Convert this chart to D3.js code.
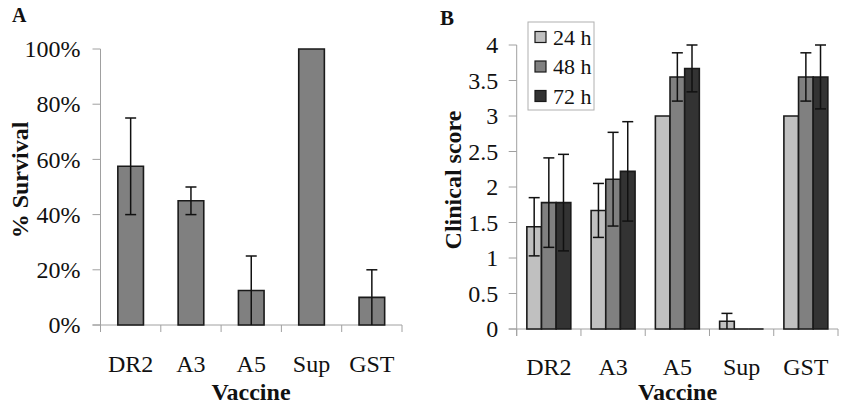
<!DOCTYPE html>
<html><head><meta charset="utf-8">
<script src="https://cdn.jsdelivr.net/npm/d3@7"></script>
<style>
html,body{margin:0;padding:0;background:#fff;}
svg{display:block;}
text{font-family:"Liberation Serif","Times New Roman",serif;fill:#111;}
</style></head>
<body>
<svg id="c" width="846" height="407"></svg>
<script>
// ---- data ----
const categories = ["DR2", "A3", "A5", "Sup", "GST"];
const survival = [0.575, 0.45, 0.125, 1.0, 0.10];
const survivalErr = [0.175, 0.05, 0.125, 0, 0.10];
const survivalTicks = [0, 0.2, 0.4, 0.6, 0.8, 1.0];

const series = ["24 h", "48 h", "72 h"];
const score24 = [1.44, 1.67, 3.0, 0.11, 3.0];
const score48 = [1.78, 2.11, 3.55, 0, 3.55];
const score72 = [1.78, 2.22, 3.67, 0, 3.55];
const err24 = [0.41, 0.38, 0, 0.11, 0];
const err48 = [0.63, 0.66, 0.34, 0, 0.34];
const err72 = [0.68, 0.70, 0.33, 0, 0.45];
const scoreTicks = [0, 0.5, 1, 1.5, 2, 2.5, 3, 3.5, 4];
const seriesColors = ["#c0c0c0", "#808080", "#333333"];

const svg = d3.select("#c");
const axisColor = "#a0a0a0";
const barStroke = "#1a1a1a";

function barPath(x0, x1, y0, y1) {
  return `M${x0},${y0}V${y1}H${x1}V${y0}Z`;
}

function drawAxes(g, x, y, ticks, fmt, labelOff) {
  const [r0, r1] = x.range();
  const [b, t] = y.range();
  g.append("line").attr("x1", r0).attr("x2", r0).attr("y1", t).attr("y2", b + 7)
    .attr("stroke", axisColor).attr("stroke-width", 1);
  g.selectAll(".yt").data(ticks).join("line")
    .attr("x1", r0 - 8).attr("x2", r0).attr("y1", d => y(d)).attr("y2", d => y(d))
    .attr("stroke", axisColor);
  g.selectAll(".yl").data(ticks).join("text")
    .attr("x", r0 - labelOff).attr("y", d => y(d)).attr("dy", "0.34em")
    .attr("text-anchor", "end").attr("font-size", 24).text(fmt);
  g.append("line").attr("x1", r0 - 8).attr("x2", r1).attr("y1", b).attr("y2", b)
    .attr("stroke", axisColor);
  const bounds = d3.range(categories.length + 1).map(i => r0 + i * x.step());
  g.selectAll(".xt").data(bounds).join("line")
    .attr("x1", d => d).attr("x2", d => d).attr("y1", b).attr("y2", b + 7)
    .attr("stroke", axisColor);
}

// ---------------- Panel A ----------------
const gA = svg.append("g");
const xA = d3.scaleBand().domain(categories).range([100.5, 402])
  .paddingInner(0.575).paddingOuter(0.2875);
const yA = d3.scaleLinear().domain([0, 1]).range([325, 49]);
drawAxes(gA, xA, yA, survivalTicks, d3.format(".0%"), 20);

gA.selectAll(".bar").data(categories).join("path")
  .attr("d", (c, i) => barPath(xA(c), xA(c) + xA.bandwidth(), yA(0), yA(survival[i])))
  .attr("fill", "#808080").attr("stroke", barStroke).attr("stroke-width", 1.6);

categories.forEach((c, i) => {
  const e = survivalErr[i];
  if (!e) return;
  const cx = xA(c) + xA.bandwidth() / 2;
  const lo = Math.max(0, survival[i] - e), hi = survival[i] + e;
  gA.append("line").attr("x1", cx).attr("x2", cx).attr("y1", yA(lo)).attr("y2", yA(hi))
    .attr("stroke", "#111").attr("stroke-width", 1.5);
  [lo, hi].forEach(v => {
    if (v <= 0) return;
    gA.append("line").attr("x1", cx - 5.5).attr("x2", cx + 5.5).attr("y1", yA(v)).attr("y2", yA(v))
      .attr("stroke", "#111").attr("stroke-width", 1.5);
  });
});

gA.selectAll(".xl").data(categories).join("text")
  .attr("x", c => xA(c) + xA.bandwidth() / 2).attr("y", 372)
  .attr("text-anchor", "middle").attr("font-size", 24).text(c => c);
gA.append("text").attr("x", 251).attr("y", 400).attr("text-anchor", "middle")
  .attr("font-size", 24).attr("font-weight", "bold").text("Vaccine");
gA.append("text").attr("transform", "translate(28,180) rotate(-90)")
  .attr("text-anchor", "middle").attr("font-size", 24).attr("font-weight", "bold").text("% Survival");
gA.append("text").attr("x", 12).attr("y", 22).attr("font-size", 20).attr("font-weight", "bold").text("A");

// ---------------- Panel B ----------------
const gB = svg.append("g");
const xB = d3.scaleBand().domain(categories).range([516.7, 838])
  .paddingInner(0.316).paddingOuter(0.158);
const xB1 = d3.scaleBand().domain(series).range([0, xB.bandwidth()]);
const yB = d3.scaleLinear().domain([0, 4]).range([329, 45]);
drawAxes(gB, xB, yB, scoreTicks, d3.format(""), 18.5);

const values = [score24, score48, score72];
const errs = [err24, err48, err72];

series.forEach((s, si) => {
  gB.append("g").selectAll("path").data(categories).join("path")
    .attr("d", (c, i) => {
      const x0 = xB(c) + xB1(s);
      return barPath(x0, x0 + xB1.bandwidth(), yB(0), yB(values[si][i]));
    })
    .attr("fill", seriesColors[si]).attr("stroke", barStroke).attr("stroke-width", 1.6);
});

series.forEach((s, si) => {
  categories.forEach((c, i) => {
    const e = errs[si][i];
    if (!e) return;
    const v = values[si][i];
    const cx = xB(c) + xB1(s) + xB1.bandwidth() / 2;
    const lo = Math.max(0, v - e), hi = v + e;
    gB.append("line").attr("x1", cx).attr("x2", cx).attr("y1", yB(lo)).attr("y2", yB(hi))
      .attr("stroke", "#111").attr("stroke-width", 1.5);
    [lo, hi].forEach(val => {
      if (val <= 0) return;
      gB.append("line").attr("x1", cx - 5.5).attr("x2", cx + 5.5).attr("y1", yB(val)).attr("y2", yB(val))
        .attr("stroke", "#111").attr("stroke-width", 1.5);
    });
  });
});

gB.selectAll(".xl").data(categories).join("text")
  .attr("x", c => xB(c) + xB.bandwidth() / 2).attr("y", 375)
  .attr("text-anchor", "middle").attr("font-size", 24).text(c => c);
gB.append("text").attr("x", 677.5).attr("y", 400).attr("text-anchor", "middle")
  .attr("font-size", 24).attr("font-weight", "bold").text("Vaccine");
gB.append("text").attr("transform", "translate(461,180) rotate(-90)")
  .attr("text-anchor", "middle").attr("font-size", 24).attr("font-weight", "bold").text("Clinical score");
gB.append("text").attr("x", 440).attr("y", 25).attr("font-size", 21).attr("font-weight", "bold").text("B");

// legend
const lg = gB.append("g");
lg.append("rect").attr("x", 528).attr("y", 22).attr("width", 66).attr("height", 88)
  .attr("fill", "#fff").attr("stroke", "#b0b0b0").attr("stroke-width", 1);
series.forEach((s, si) => {
  const cy = 37 + si * 29.5;
  lg.append("rect").attr("x", 535).attr("y", cy - 5.5).attr("width", 11).attr("height", 11)
    .attr("fill", seriesColors[si]).attr("stroke", barStroke).attr("stroke-width", 1.2);
  lg.append("text").attr("x", 553).attr("y", cy).attr("dy", "0.35em")
    .attr("font-size", 22).text(s);
});
</script>
</body></html>
